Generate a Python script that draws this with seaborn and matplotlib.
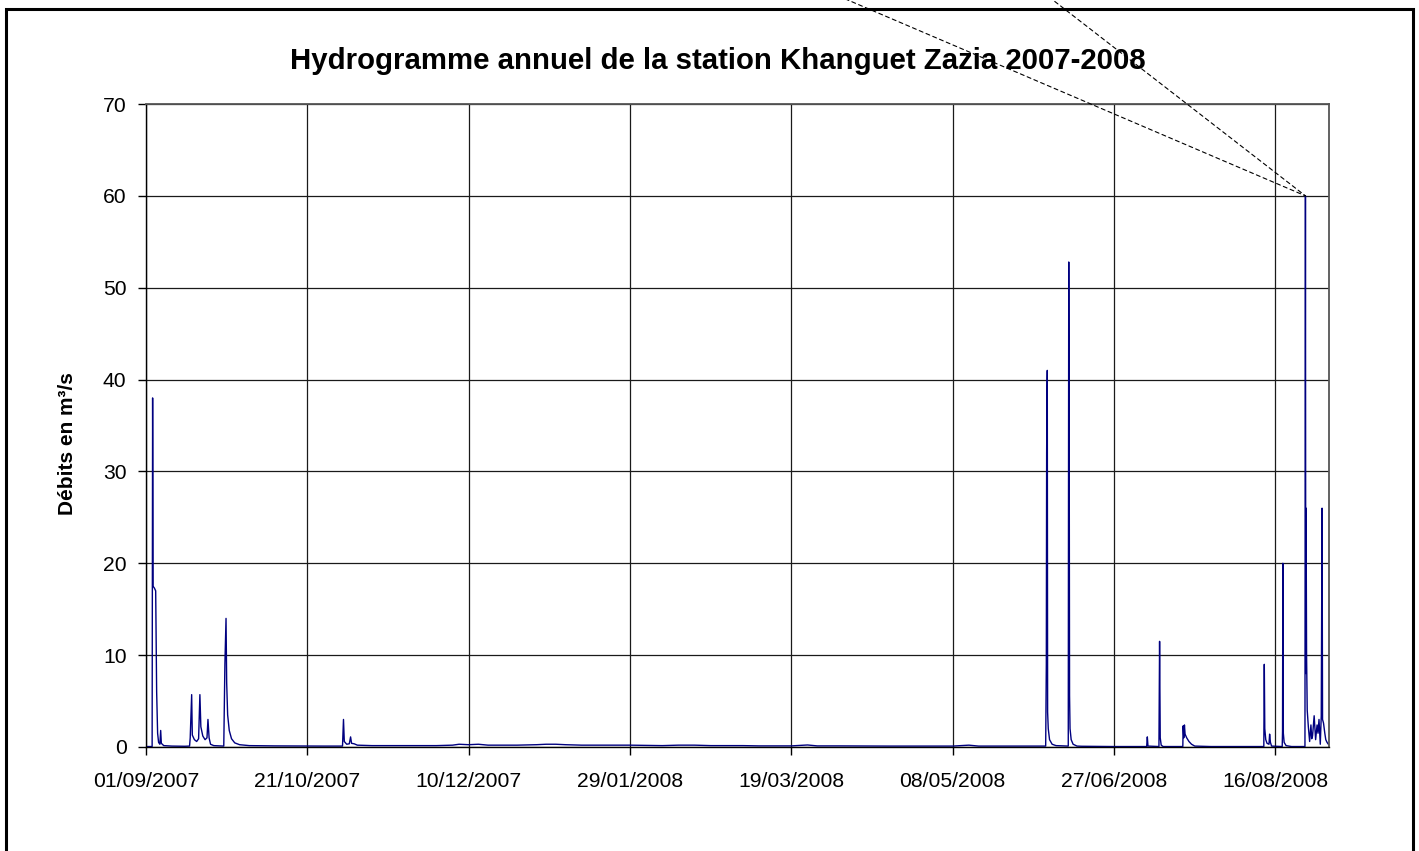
import matplotlib
matplotlib.use("Agg")
import matplotlib.pyplot as plt
from matplotlib.patches import Rectangle
import numpy as np
import pandas as pd
import seaborn as sns

# Hydrological year origin
origine = pd.Timestamp("2007-09-01")

# Time since origin (days) and discharge (m3/s)
jours = [
    0.0, 1.9, 2.05, 2.2, 2.6, 3.0, 3.3, 3.6, 3.9, 4.3, 4.55, 4.75, 5.5, 8.0, 12.0,
    13.5, 13.7, 14.15, 14.35, 15.0, 15.7, 16.3, 16.7, 17.0, 17.6, 18.3, 18.9, 19.2,
    19.55, 20.0, 21.0,
    24.1, 24.45, 24.8, 25.0, 25.3, 25.8, 26.5, 27.5, 29.0, 32.0, 40.0, 50.0, 55.0,
    60.9, 61.2, 61.45, 62.2, 63.0, 63.4, 63.7, 64.5, 65.5, 70.0, 80.0, 90.0,
    95.0, 97.0, 100.0, 103.0, 106.0, 115.0, 121.0, 124.0, 127.0, 130.0, 135.0,
    150.0, 160.0, 165.0, 170.0, 175.0, 185.0, 190.0, 200.0, 205.0, 208.0, 215.0,
    230.0, 240.0, 250.0, 255.0, 258.0, 270.0,
    278.8, 279.0, 279.1, 279.2, 279.3, 279.4, 279.6, 280.0, 280.8, 282.0,
    285.8, 285.95, 286.05, 286.1, 286.2, 286.35, 286.7, 287.3, 288.5, 290.0, 300.0,
    310.1, 310.3, 310.5, 313.9, 314.1, 314.3, 314.6, 315.2,
    321.3, 321.4, 321.6, 321.8, 322.0, 322.5, 323.2, 324.0, 325.0, 330.0, 340.0,
    346.4, 346.55, 346.7, 347.0, 347.4, 348.0, 348.2, 348.45, 348.8,
    352.1, 352.2, 352.3, 352.45, 352.7, 353.3, 355.0,
    359.15, 359.3, 359.4, 359.5, 359.65, 359.85, 360.2, 360.6, 361.0, 361.25,
    361.5, 362.0, 362.45, 362.9, 363.2, 363.5, 363.9, 364.2, 364.45, 364.6,
    364.9, 365.3, 365.6, 366.0, 366.4,
]
debits = [
    0.05, 0.05, 38.0, 17.5, 17.3, 17.0, 6.0, 1.5, 0.5, 0.3, 1.8, 0.4, 0.15, 0.1, 0.08,
    0.1, 1.0, 5.7, 1.3, 0.8, 0.6, 0.9, 5.7, 2.2, 1.2, 0.8, 1.0, 3.0,
    1.0, 0.3, 0.15,
    0.1, 9.0, 14.0, 7.0, 3.5, 1.8, 0.9, 0.45, 0.25, 0.15, 0.12, 0.1, 0.1,
    0.1, 3.0, 0.6, 0.3, 0.35, 1.1, 0.4, 0.35, 0.2, 0.15, 0.15, 0.15,
    0.2, 0.3, 0.25, 0.3, 0.2, 0.2, 0.25, 0.3, 0.3, 0.25, 0.2,
    0.2, 0.15, 0.2, 0.2, 0.15, 0.15, 0.12, 0.12, 0.22, 0.12, 0.12,
    0.1, 0.1, 0.1, 0.2, 0.1, 0.1,
    0.1, 9.0, 32.0, 38.0, 41.0, 3.8, 2.0, 0.8, 0.3, 0.15,
    0.1, 52.8, 38.0, 32.0, 5.6, 2.0, 0.8, 0.3, 0.1, 0.08, 0.05,
    0.05, 1.1, 0.1, 0.05, 11.5, 1.0, 0.2, 0.05,
    0.05, 2.3, 1.0, 2.4, 1.4, 1.0, 0.6, 0.3, 0.1, 0.05, 0.05,
    0.05, 9.0, 2.0, 0.8, 0.4, 0.3, 1.4, 0.5, 0.1,
    0.05, 1.7, 20.0, 1.5, 0.5, 0.15, 0.05,
    0.05, 60.0, 8.0, 26.0, 10.0, 4.0, 2.2, 0.6, 2.4, 0.9,
    1.2, 3.4, 0.8, 2.4, 1.5, 3.0, 0.3, 3.4, 26.0, 3.0,
    2.6, 1.5, 0.8, 0.5, 0.3,
]

# Axis ticks
pas_jours = 50
tick_labels = ["01/09/2007", "21/10/2007", "10/12/2007", "29/01/2008",
               "19/03/2008", "08/05/2008", "27/06/2008", "16/08/2008"]
y_ticks = [0, 10, 20, 30, 40, 50, 60, 70]

titre = "Hydrogramme annuel de la station Khanguet Zazia 2007-2008"
label_y = "Débits en m³/s"

df = pd.DataFrame({
    "date": origine + pd.to_timedelta(jours, unit="D"),
    "debit": debits,
})

sns.set_theme(style="white")
plt.rcParams["font.family"] = ["Liberation Sans", "DejaVu Sans"]
plt.rcParams["text.color"] = "black"
plt.rcParams["axes.labelcolor"] = "black"

W, H = 1419, 851
fig = plt.figure(figsize=(W / 100, H / 100), dpi=100)
fig.patch.set_facecolor("white")
ax = fig.add_axes([146 / W, 104 / H, 1183 / W, 643 / H])

sns.lineplot(data=df, x="date", y="debit", color="#000080", linewidth=1.0,
             estimator=None, ax=ax)

ax.set_xlim(origine, origine + pd.Timedelta(days=366.6))
ax.set_ylim(0, 70)

tick_dates = [origine + pd.Timedelta(days=pas_jours * i) for i in range(len(tick_labels))]
ax.set_xticks(tick_dates)
ax.set_xticklabels(tick_labels)
ax.set_yticks(y_ticks)
ax.set_yticklabels([str(v) for v in y_ticks])

ax.grid(True, color="#1a1a1a", linewidth=0.9)
ax.set_axisbelow(True)
ax.tick_params(axis="both", direction="out", length=6, width=1, color="black",
               labelsize=15.2, labelcolor="black")
ax.tick_params(axis="x", pad=12)
ax.tick_params(axis="y", pad=8)
ax.xaxis.set_ticks_position("bottom")
ax.yaxis.set_ticks_position("left")

for side in ("left", "bottom"):
    ax.spines[side].set_color("black")
    ax.spines[side].set_linewidth(1.0)
for side in ("top", "right"):
    ax.spines[side].set_color("#555555")
    ax.spines[side].set_linewidth(1.3)

ax.set_xlabel("")
ax.set_ylabel(label_y, fontsize=15, fontweight="bold", color="black")
ax.yaxis.set_label_coords(-0.058, 0.472)

fig.text(718 / W, 1 - 61 / H, titre, ha="center", va="center",
         fontsize=21.2, fontweight="bold", color="black")

# Dashed leader lines converging on the annual maximum
i_max = int(np.argmax(debits))
x_max = df["date"].iloc[i_max]
for x_end in (777.7, 1014.2):
    ax.annotate("", xy=(x_max, debits[i_max]), xycoords="data",
                xytext=(x_end, H + 30), textcoords="figure pixels",
                arrowprops=dict(arrowstyle="-", color="black", lw=0.8,
                                linestyle=(0, (3.6, 3.0)),
                                shrinkA=0, shrinkB=0))

# Chart frame
cadre = Rectangle((6 / W, -0.05), (1413 - 6) / W, (1 - 9 / H) + 0.05,
                  transform=fig.transFigure, fill=False, edgecolor="black",
                  linewidth=2.2, clip_on=False)
fig.add_artist(cadre)

fig.savefig("out.png", dpi=100, facecolor="white")
